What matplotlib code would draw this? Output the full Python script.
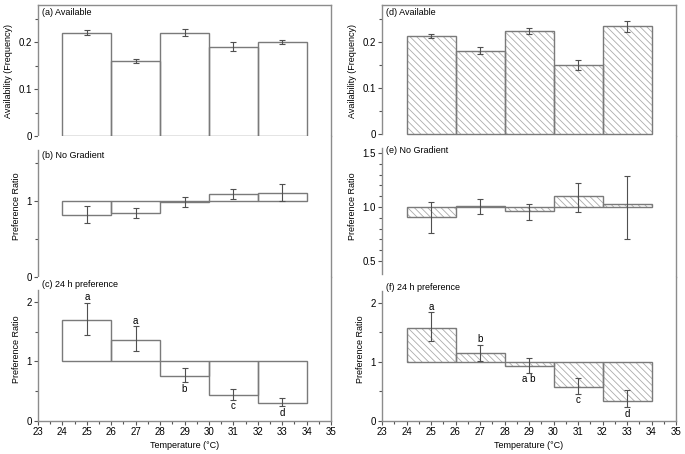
import numpy as np
import matplotlib.pyplot as plt
from matplotlib.ticker import MultipleLocator, FixedLocator

plt.rcParams['font.family'] = ['Liberation Sans', 'DejaVu Sans']
plt.rcParams['hatch.linewidth'] = 0.6

# bin centres (°C), each bin is 2 °C wide
temps = [25, 27, 29, 31, 33]

# left column: (a) available, (b) no gradient, (c) 24 h preference
avail_a = [0.220, 0.160, 0.220, 0.190, 0.200]
avail_a_err = [0.005, 0.004, 0.007, 0.010, 0.004]

nograd_b = [0.82, 0.84, 0.99, 1.09, 1.11]
nograd_b_low = [0.714, 0.771, 0.925, 1.022, 1.004]
nograd_b_high = [0.938, 0.907, 1.057, 1.154, 1.225]

pref_c = [1.70, 1.36, 0.76, 0.44, 0.31]
pref_c_low = [1.45, 1.17, 0.65, 0.36, 0.25]
pref_c_high = [1.98, 1.59, 0.89, 0.54, 0.39]
letters_c = ['a', 'a', 'b', 'c', 'd']

# right column: (d) available, (e) no gradient, (f) 24 h preference
avail_d = [0.213, 0.181, 0.224, 0.150, 0.234]
avail_d_err = [0.005, 0.007, 0.007, 0.011, 0.012]

nograd_e = [0.91, 1.01, 0.96, 1.10, 1.03]
nograd_e_low = [0.756, 0.935, 0.880, 0.951, 0.704]
nograd_e_high = [1.043, 1.074, 1.031, 1.225, 1.284]

pref_f = [1.575, 1.15, 0.94, 0.58, 0.345]
pref_f_low = [1.35, 1.02, 0.82, 0.46, 0.23]
pref_f_high = [1.84, 1.29, 1.07, 0.73, 0.52]
letters_f = ['a', 'b', 'a b', 'c', 'd']

EDGE = '#7a7a7a'
SPINE = '#8c8c8c'
ERR = '#505050'
FS = 6.5


def draw_bars(ax, vals, base, hatched):
    heights = np.array(vals) - base
    if hatched:
        ax.bar(temps, heights, width=2, bottom=base, color='white',
               edgecolor='#ababab', hatch='\\\\\\\\\\', linewidth=0)
    ax.bar(temps, heights, width=2, bottom=base, fill=False,
           edgecolor=EDGE, linewidth=1.0)


def draw_err(ax, vals, low, high):
    vals = np.array(vals)
    yerr = [vals - np.array(low), np.array(high) - vals]
    ax.errorbar(temps, vals, yerr=yerr, fmt='none', ecolor=ERR,
                elinewidth=0.8, capsize=2, capthick=0.8)


def draw_letters(ax, vals, low, high, letters):
    for x, v, lo, hi, s in zip(temps, vals, low, high, letters):
        if v > 1:
            ax.annotate(s, (x, hi), xytext=(0, 0.5), textcoords='offset points',
                        ha='center', va='bottom', fontsize=FS + 0.5)
        else:
            ax.annotate(s, (x, lo), xytext=(0, -1), textcoords='offset points',
                        ha='center', va='top', fontsize=FS + 0.5)


def style(ax, ylim, spine_bounds, show_top, show_bottom):
    ax.set_xlim(23, 35)
    ax.set_ylim(*ylim)
    for s in ax.spines.values():
        s.set_color(SPINE)
        s.set_linewidth(1.0)
    ax.spines['top'].set_visible(show_top)
    ax.spines['bottom'].set_visible(show_bottom)
    ax.spines['left'].set_bounds(*spine_bounds)
    ax.tick_params(which='both', direction='out', colors='#555555',
                   labelcolor='black', labelsize=FS + 0.5, width=0.8)
    ax.tick_params(which='major', length=3, pad=1.5)
    ax.tick_params(which='minor', length=2)
    ax.tick_params(axis='y', right=False)
    if show_bottom:
        ax.xaxis.set_major_locator(MultipleLocator(1))
        ax.xaxis.set_minor_locator(MultipleLocator(0.5))
        ax.set_xlabel('Temperature (°C)', fontsize=FS, labelpad=3)
    else:
        ax.tick_params(axis='x', which='both', bottom=False, labelbottom=False)


def panel_label(ax, text, y):
    ax.text(0.012, y, text, transform=ax.transAxes, ha='left', va='center',
            fontsize=FS)


fig = plt.figure(figsize=(6.85, 4.54), dpi=100)

col_x = [38 / 685, 382 / 685]
col_w = [293 / 685, 294 / 685]
rows = [(1 - 136 / 454, 131 / 454), (1 - 277 / 454, 141 / 454),
        (1 - 421 / 454, 144 / 454)]

axes = []
for c in range(2):
    col = []
    for y0, h in rows:
        col.append(fig.add_axes([col_x[c], y0, col_w[c], h]))
    axes.append(col)

# (a)
ax = axes[0][0]
draw_bars(ax, avail_a, 0, False)
ax.errorbar(temps, avail_a, yerr=avail_a_err, fmt='none', ecolor=ERR,
            elinewidth=0.8, capsize=2, capthick=0.8)
style(ax, (0, 0.279), (0, 0.279), True, False)
ax.set_yticks([0, 0.1, 0.2], ['0', '0.1', '0.2'])
ax.yaxis.set_minor_locator(FixedLocator([0.05, 0.15, 0.25]))
ax.set_ylabel('Availability (Frequency)', fontsize=FS)
panel_label(ax, '(a) Available', 0.94)

# (b)
ax = axes[0][1]
draw_bars(ax, nograd_b, 1, False)
draw_err(ax, nograd_b, nograd_b_low, nograd_b_high)
style(ax, (0, 1.855), (0, 1.67), False, False)
ax.set_yticks([0, 1], ['0', '1'])
ax.yaxis.set_minor_locator(FixedLocator([0.5, 1.5]))
ax.set_ylabel('Preference Ratio', fontsize=FS)
panel_label(ax, '(b) No Gradient', 0.865)

# (c)
ax = axes[0][2]
draw_bars(ax, pref_c, 1, False)
draw_err(ax, pref_c, pref_c_low, pref_c_high)
draw_letters(ax, pref_c, pref_c_low, pref_c_high, letters_c)
style(ax, (0, 2.42), (0, 2.2), False, True)
ax.set_yticks([0, 1, 2], ['0', '1', '2'])
ax.yaxis.set_minor_locator(FixedLocator([0.5, 1.5]))
ax.set_ylabel('Preference Ratio', fontsize=FS)
panel_label(ax, '(c) 24 h preference', 0.945)

# (d)
ax = axes[1][0]
draw_bars(ax, avail_d, 0, True)
ax.errorbar(temps, avail_d, yerr=avail_d_err, fmt='none', ecolor=ERR,
            elinewidth=0.8, capsize=2, capthick=0.8)
style(ax, (-0.0043, 0.28), (0, 0.28), True, False)
ax.set_yticks([0, 0.1, 0.2], ['0', '0.1', '0.2'])
ax.yaxis.set_minor_locator(FixedLocator([0.05, 0.15, 0.25]))
ax.set_ylabel('Availability (Frequency)', fontsize=FS)
panel_label(ax, '(d) Available', 0.94)

# (e)
ax = axes[1][1]
draw_bars(ax, nograd_e, 1, True)
draw_err(ax, nograd_e, nograd_e_low, nograd_e_high)
style(ax, (0.352, 1.657), (0.38, 1.55), False, False)
ax.set_yticks([0.5, 1.0, 1.5], ['0.5', '1.0', '1.5'])
ax.yaxis.set_minor_locator(FixedLocator([0.6, 0.7, 0.8, 0.9, 1.1, 1.2, 1.3, 1.4]))
ax.set_ylabel('Preference Ratio', fontsize=FS)
panel_label(ax, '(e) No Gradient', 0.90)

# (f)
ax = axes[1][2]
draw_bars(ax, pref_f, 1, True)
draw_err(ax, pref_f, pref_f_low, pref_f_high)
draw_letters(ax, pref_f, pref_f_low, pref_f_high, letters_f)
style(ax, (0, 2.44), (0, 2.2), False, True)
ax.set_yticks([0, 1, 2], ['0', '1', '2'])
ax.yaxis.set_minor_locator(FixedLocator([0.5, 1.5]))
ax.set_ylabel('Preference Ratio', fontsize=FS)
panel_label(ax, '(f) 24 h preference', 0.93)

fig.savefig('out.png', dpi=100)
